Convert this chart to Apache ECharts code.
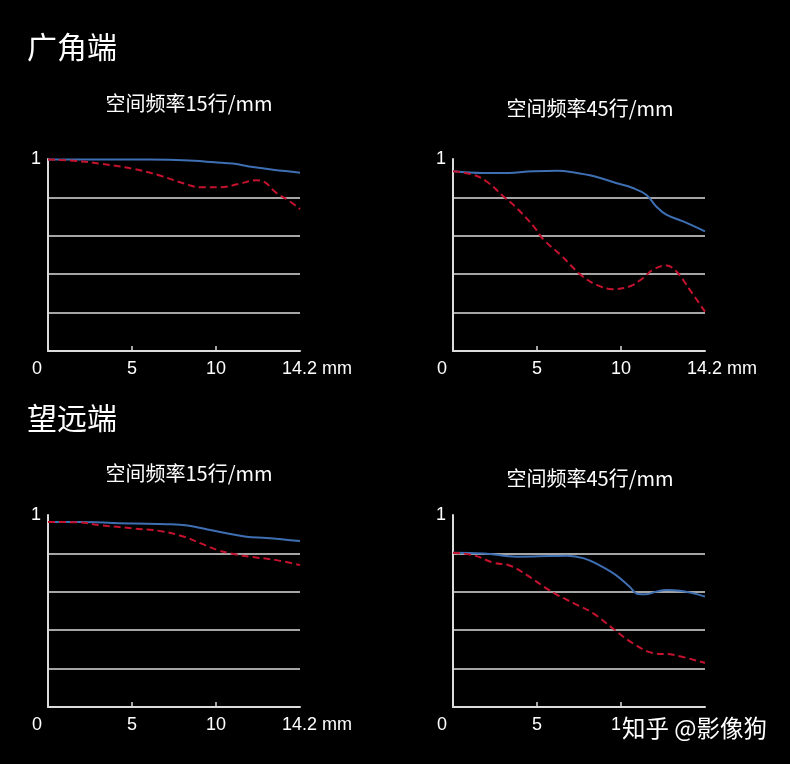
<!DOCTYPE html>
<html>
<head>
<meta charset="utf-8">
<style>
html,body{margin:0;padding:0;background:#000;}
#chart{width:790px;height:764px;}
</style>
<script src="https://cdn.jsdelivr.net/npm/echarts@6/dist/echarts.min.js"></script>
</head>
<body>
<div id="chart"></div>
<script>
// ---- data ----
const sectionTitles = ['广角端', '望远端'];
const panelTitles = ['空间频率15行/mm', '空间频率45行/mm', '空间频率15行/mm', '空间频率45行/mm'];
const xTickValues = [0, 5, 10, 15];
const xTickLabels = ['0', '5', '10', '14.2 mm'];
const yTickValues = [1];
const yTickLabels = ['1'];
const watermark = '知乎 @影像狗';

// wide, 15 lp/mm
const wide15BlueX = [0, 2, 4, 6, 7.1, 8.7, 9.9, 11, 12.2, 13.4, 15];
const wide15BlueY = [0.998, 0.998, 0.997, 0.997, 0.996, 0.991, 0.983, 0.976, 0.958, 0.944, 0.929];
const wide15RedX = [0, 1.9, 3.1, 5.1, 6.7, 8.1, 9.1, 10.3, 11.4, 12.4, 12.8, 13.6, 14.4, 15];
const wide15RedY = [0.998, 0.988, 0.976, 0.948, 0.913, 0.872, 0.853, 0.853, 0.871, 0.889, 0.884, 0.823, 0.779, 0.739];
// wide, 45 lp/mm
const wide45BlueX = [0, 1.8, 2.8, 4.8, 6.2, 7.2, 8.4, 9.7, 10.7, 11.5, 12.1, 12.7, 13.7, 15];
const wide45BlueY = [0.936, 0.927, 0.927, 0.936, 0.939, 0.930, 0.910, 0.875, 0.849, 0.814, 0.753, 0.710, 0.675, 0.623];
const wide45RedX = [0, 1.2, 2.0, 3.0, 3.8, 4.8, 5.4, 6.4, 7.6, 8.55, 9.5, 10.5, 11.3, 11.9, 12.7, 13.3, 14.1, 15];
const wide45RedY = [0.936, 0.918, 0.883, 0.805, 0.744, 0.649, 0.579, 0.501, 0.397, 0.344, 0.322, 0.336, 0.379, 0.423, 0.445, 0.414, 0.318, 0.205];
// tele, 15 lp/mm
const tele15BlueX = [0, 1.9, 5.1, 7.1, 8.3, 9.5, 10.7, 11.8, 13.0, 15];
const tele15BlueY = [0.964, 0.963, 0.956, 0.952, 0.945, 0.925, 0.904, 0.887, 0.880, 0.864];
const tele15RedX = [0, 1.9, 3.1, 5.1, 6.7, 8.1, 9.1, 10.1, 10.9, 12.0, 13.6, 15];
const tele15RedY = [0.964, 0.961, 0.947, 0.930, 0.916, 0.887, 0.852, 0.817, 0.800, 0.783, 0.765, 0.739];
// tele, 45 lp/mm
const tele45BlueX = [0, 1.8, 3.8, 5.8, 6.8, 7.8, 8.7, 9.7, 10.5, 11.0, 11.5, 12.1, 12.7, 13.5, 14.3, 15];
const tele45BlueY = [0.803, 0.800, 0.783, 0.786, 0.788, 0.774, 0.739, 0.687, 0.627, 0.589, 0.587, 0.601, 0.610, 0.606, 0.592, 0.575];
const tele45RedX = [0, 1.2, 2.4, 3.4, 4.4, 5.4, 6.2, 7.2, 8.35, 9.5, 10.7, 11.9, 13.1, 15];
const tele45RedY = [0.803, 0.791, 0.752, 0.736, 0.687, 0.627, 0.584, 0.540, 0.488, 0.410, 0.332, 0.281, 0.272, 0.229];

// ---- chart ----
const zip = (xs, ys) => xs.map((x, i) => [x, ys[i]]);
const panels = [
  { blue: zip(wide15BlueX, wide15BlueY), red: zip(wide15RedX, wide15RedY) },
  { blue: zip(wide45BlueX, wide45BlueY), red: zip(wide45RedX, wide45RedY) },
  { blue: zip(tele15BlueX, tele15BlueY), red: zip(tele15RedX, tele15RedY) },
  { blue: zip(tele45BlueX, tele45BlueY), red: zip(tele45RedX, tele45RedY) }
];
const gridPos = [
  { left: 48, top: 159, width: 252, height: 192 },
  { left: 453, top: 159, width: 252, height: 192 },
  { left: 48, top: 515, width: 252, height: 192 },
  { left: 453, top: 515, width: 252, height: 192 }
];
const subPos = [[189, 103], [590, 108], [189, 473], [590, 478]];
const secPos = [[27, 47], [27, 418]];
const lineCol = '#dcdcdc';
const numFont = '"Liberation Sans", Arial, sans-serif';
const cjkFont = '"Noto Sans CJK SC", sans-serif';

const xAxes = gridPos.map((g, i) => ({
  type: 'value', gridIndex: i, min: 0, max: 15, interval: 5,
  axisLine: { show: true, lineStyle: { color: lineCol, width: 2 } },
  axisTick: { show: true, inside: true, length: 5, customValues: [5, 10], lineStyle: { color: lineCol, width: 1.5 } },
  splitLine: { show: false },
  axisLabel: {
    show: true, color: '#fff', fontSize: 18, fontFamily: numFont, margin: 9,
    customValues: xTickValues,
    formatter: v => {
      const idx = xTickValues.indexOf(v);
      const t = idx >= 0 ? xTickLabels[idx] : '';
      if (idx === 0) return '{z|' + t + '}';
      if (idx === xTickValues.length - 1) return '{e|' + t + '}';
      return t;
    },
    rich: {
      z: { fontSize: 18, color: '#fff', fontFamily: numFont, padding: [0, 22, 0, 0] },
      e: { fontSize: 18, color: '#fff', fontFamily: numFont, padding: [0, 0, 0, 34] }
    }
  }
}));
const yAxes = gridPos.map((g, i) => ({
  type: 'value', gridIndex: i, min: 0, max: 1, interval: 0.2,
  axisLine: { show: true, lineStyle: { color: lineCol, width: 2 } },
  axisTick: { show: false },
  splitLine: { show: true, showMinLine: false, showMaxLine: false, lineStyle: { color: lineCol, width: 1.5 } },
  axisLabel: {
    show: true, color: '#fff', fontSize: 18, fontFamily: numFont, margin: 7,
    customValues: yTickValues,
    formatter: v => { const idx = yTickValues.indexOf(v); return idx >= 0 ? yTickLabels[idx] : ''; }
  }
}));
const series = [];
panels.forEach((p, i) => {
  series.push({
    type: 'line', xAxisIndex: i, yAxisIndex: i, data: p.blue, smooth: 0.4,
    showSymbol: false, lineStyle: { color: '#3f6fb3', width: 2 }, z: 3
  });
  series.push({
    type: 'line', xAxisIndex: i, yAxisIndex: i, data: p.red, smooth: 0.4,
    showSymbol: false, lineStyle: { color: '#c4122f', width: 2, type: [7, 4] }, z: 4
  });
});
const graphics = [];
sectionTitles.forEach((t, i) => graphics.push({
  type: 'text', x: secPos[i][0], y: secPos[i][1],
  style: { text: t, fill: '#fff', font: '400 30px ' + cjkFont, textVerticalAlign: 'middle', textAlign: 'left' }
}));
panelTitles.forEach((t, i) => graphics.push({
  type: 'text', x: subPos[i][0], y: subPos[i][1],
  style: { text: t, fill: '#fff', font: '20px ' + cjkFont, textVerticalAlign: 'middle', textAlign: 'center' }
}));
// dark backdrop of the watermark (covers the axis label beneath it, as in the reference)
graphics.push({
  type: 'rect', z: 99, shape: { x: 621, y: 712, width: 160, height: 32 },
  style: { fill: 'rgba(0,0,0,0.95)' }
});
graphics.push({
  type: 'text', x: 622, y: 728, z: 100,
  style: { text: watermark, fill: '#fff', font: '23.5px ' + cjkFont, textVerticalAlign: 'middle', textAlign: 'left',
    textShadowColor: 'rgba(0,0,0,0.8)', textShadowBlur: 3 }
});

const chart = echarts.init(document.getElementById('chart'), null, { renderer: 'canvas' });
chart.setOption({
  backgroundColor: '#000',
  animation: false,
  grid: gridPos.map(g => Object.assign({ containLabel: false }, g)),
  xAxis: xAxes,
  yAxis: yAxes,
  series: series,
  graphic: graphics
});
</script>
</body>
</html>
